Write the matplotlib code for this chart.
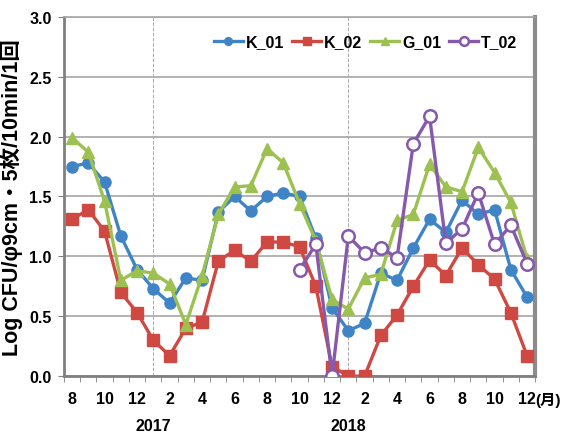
import matplotlib.pyplot as plt
import matplotlib.transforms as mtransforms
import numpy as np

plt.rcParams["font.family"] = ["Liberation Sans Narrow", "Liberation Sans", "Noto Sans CJK JP"]
plt.rcParams["font.weight"] = "bold"

# months Aug 2016 .. Dec 2018
month_labels = ["8", "", "10", "", "12", "", "2", "", "4", "", "6", "", "8", "", "10", "",
                "12", "", "2", "", "4", "", "6", "", "8", "", "10", "", "12"]
year_labels = ["2017", "2018"]
year_pos = [5, 17]

k01 = [1.75, 1.78, 1.62, 1.17, 0.89, 0.73, 0.61, 0.82, 0.80, 1.37, 1.50, 1.38, 1.50, 1.53, 1.50,
       1.15, 0.57, 0.38, 0.44, 0.86, 0.80, 1.07, 1.31, 1.20, 1.47, 1.35, 1.39, 0.89, 0.66]
k02 = [1.31, 1.39, 1.21, 0.70, 0.53, 0.30, 0.17, 0.40, 0.45, 0.96, 1.05, 0.96, 1.12, 1.12, 1.08,
       0.75, 0.08, 0.00, 0.00, 0.34, 0.51, 0.75, 0.97, 0.84, 1.07, 0.93, 0.81, 0.53, 0.17]
g01 = [1.99, 1.87, 1.46, 0.80, 0.88, 0.86, 0.77, 0.43, 0.84, 1.35, 1.58, 1.59, 1.90, 1.78, 1.44,
       1.13, 0.64, 0.56, 0.82, 0.85, 1.30, 1.35, 1.77, 1.58, 1.54, 1.91, 1.70, 1.45, 0.98]
t02_start = 14
t02 = [0.89, 1.10, 0.00, 1.17, 1.03, 1.07, 0.99, 1.94, 2.17, 1.11, 1.23, 1.53, 1.10, 1.26, 0.94]

x = np.arange(len(k01))
xt = np.arange(t02_start, t02_start + len(t02))

fig = plt.figure(figsize=(5.61, 4.35), dpi=100)
ax = fig.add_axes([0.114, 0.133, 0.840, 0.826])

lw = 2.4
ax.plot(x, k01, color="#3f84c6", marker="o", markersize=8, linewidth=lw, label="K_01", zorder=3)
ax.plot(x, k02, color="#d04842", marker="s", markersize=8, linewidth=lw, label="K_02", zorder=3)
ax.plot(x, g01, color="#9cc151", marker="^", markersize=9, linewidth=lw, label="G_01", zorder=3)
ax.plot(xt, t02, color="#8659ad", marker="o", markersize=9, markerfacecolor="white",
        markeredgewidth=1.8, linewidth=lw, label="T_02", zorder=4)

for xp in year_pos:
    ax.axvline(xp, color="#aaaaaa", linestyle="--", linewidth=0.7, zorder=1)

ax.set_xlim(-0.5, len(k01) - 0.5)
ax.set_ylim(0, 3.0)
ax.set_yticks(np.arange(0, 3.01, 0.5))
ax.set_yticklabels([f"{v:.1f}" for v in np.arange(0, 3.01, 0.5)], fontsize=11.5)
ax.yaxis.grid(True, color="#a6a6a6", linewidth=1.2)
ax.set_axisbelow(True)

ax.set_xticks(x)
ax.set_xticklabels(month_labels, fontsize=11.5)
ax.tick_params(axis="x", length=0, pad=11)
ax.set_xticks(np.arange(-0.5, len(k01)), minor=True)
ax.tick_params(axis="x", which="minor", length=4, color="#808080")
ax.tick_params(axis="y", length=4, color="#808080", pad=5)

for side in ["left", "bottom"]:
    ax.spines[side].set_color("#808080")
    ax.spines[side].set_linewidth(2)
ax.spines["right"].set_color("#8c8c8c")
ax.spines["right"].set_linewidth(3)
ax.spines["top"].set_color("#a6a6a6")
ax.spines["top"].set_linewidth(1.2)

trans = mtransforms.blended_transform_factory(ax.transData, ax.transAxes)
ax.text(len(k01) - 1 + 0.5, -0.064, "(月)", transform=trans, fontsize=11,
        ha="left", va="center")
for xp, lab in zip(year_pos, year_labels):
    ax.text(xp, -0.138, lab, transform=trans, fontsize=11.5, ha="center", va="center")

ax.set_ylabel("Log CFU/φ9cm・5枚/10min/1回", fontsize=15.5, fontweight="bold",
              family=["Liberation Sans", "Noto Sans CJK JP"], labelpad=4)

ax.legend(loc="upper right", ncol=4, frameon=False, fontsize=11.5, handlelength=1.8,
          handletextpad=0.2, columnspacing=0.5, borderaxespad=0.7, markerscale=0.7)

plt.savefig("out.png", dpi=100)
